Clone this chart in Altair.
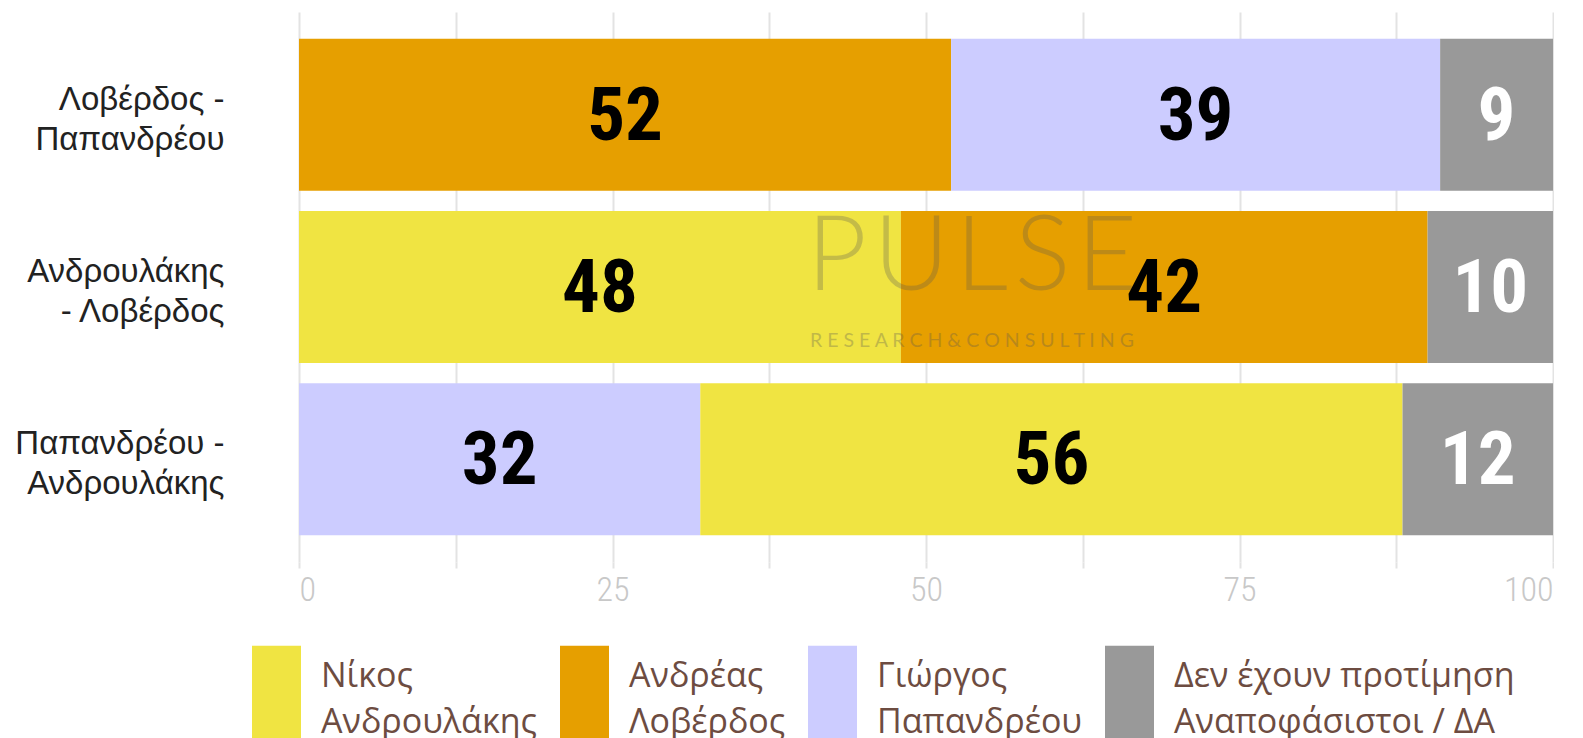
import altair as alt
import pandas as pd

# ---- data ----
rows = ["Λοβέρδος -|Παπανδρέου", "Ανδρουλάκης|- Λοβέρδος", "Παπανδρέου -|Ανδρουλάκης"]
candidates = ["Νίκος|Ανδρουλάκης", "Ανδρέας|Λοβέρδος", "Γιώργος|Παπανδρέου",
              "Δεν έχουν προτίμηση|Αναποφάσιστοι / ΔΑ"]
colors = ["#F0E442", "#E69F00", "#CCCCFF", "#999999"]

# segments per row, in drawing order (left to right)
row1_cands = [1, 2, 3]
row1_vals = [52, 39, 9]
row2_cands = [0, 1, 3]
row2_vals = [48, 42, 10]
row3_cands = [2, 0, 3]
row3_vals = [32, 56, 12]

x_ticks = [0, 12.5, 25, 37.5, 50, 62.5, 75, 87.5, 100]

recs = []
for r, cs, vs in [(rows[0], row1_cands, row1_vals),
                  (rows[1], row2_cands, row2_vals),
                  (rows[2], row3_cands, row3_vals)]:
    for i, (c, v) in enumerate(zip(cs, vs)):
        recs.append({"row": r, "cand": candidates[c], "value": v, "pos": i})
df = pd.DataFrame(recs)

COND = "Roboto Condensed, Liberation Sans Narrow, DejaVu Sans Condensed, sans-serif"

base = alt.Chart(df).transform_stack(
    stack="value", groupby=["row"], sort=[alt.SortField("pos")], as_=["x0", "x1"]
).transform_calculate(mid="(datum.x0 + datum.x1) / 2")

y_enc = alt.Y(
    "row:N", sort=rows,
    scale=alt.Scale(paddingInner=0.1177, paddingOuter=0.1556),
    axis=alt.Axis(title=None, labelExpr="split(datum.label, '|')", labelFontSize=33,
                  labelLineHeight=40, labelColor="#222222", labelFont="Liberation Sans",
                  labelPadding=75, labelOffset=-15, ticks=False, tickSize=0, domain=False,
                  minExtent=291, maxExtent=291, labelLimit=300, labelAlign="right"),
)

bars = base.mark_bar().encode(
    x=alt.X("x0:Q", scale=alt.Scale(domain=[0, 100], nice=False),
            axis=alt.Axis(values=x_ticks, title=None, grid=True, gridColor="#e3e3e3",
                          gridWidth=2, domain=False, tickColor="#e3e3e3", tickSize=6,
                          tickWidth=2, labelColor="#c8c8c8", labelFontSize=34,
                          labelFont=COND, labelFontWeight=300, labelPadding=5,
                          labelExpr="datum.value % 25 == 0 ? datum.label : ''")),
    x2="x1:Q",
    y=y_enc,
    color=alt.Color(
        "cand:N",
        scale=alt.Scale(domain=candidates, range=colors),
        legend=alt.Legend(
            orient="none", legendX=-47, legendY=640, direction="horizontal", columns=4,
            title=None, symbolType="M-1,-1.27L1,-1.27L1,2.73L-1,2.73Z", symbolSize=2401,
            symbolStrokeWidth=0, symbolOpacity=1, labelFontSize=34, labelColor="#6d4c41",
            labelFont="Open Sans", labelOffset=20, labelLimit=500,
            labelExpr="split(datum.label, '|')", columnPadding=22, rowPadding=0, padding=0,
        ),
    ),
)

wm1 = alt.Chart(pd.DataFrame({"t": ["P\u200aU\u200aL\u200aS\u200aE"]})).mark_text(
    font="Lato", fontWeight=300, fontSize=104, color="#555555", opacity=0.28,
    align="center", baseline="middle"
).encode(x=alt.value(673), y=alt.value(247), text="t:N")

wm2 = alt.Chart(pd.DataFrame({"t": ["R E S E A R C H  &  C O N S U L T I N G"]})).mark_text(
    font="Lato", fontSize=19.5, color="#555555", opacity=0.3, align="center", baseline="middle"
).encode(x=alt.value(673), y=alt.value(329), text="t:N")

labels = base.mark_text(font=COND, fontWeight="bold", fontSize=75, baseline="middle",
                        align="center", dy=2).encode(
    x="mid:Q",
    y=alt.Y("row:N", sort=rows),
    text="value:Q",
    color=alt.condition(alt.datum.cand == candidates[3], alt.value("white"), alt.value("black")),
)

chart = alt.layer(bars, wm1, wm2, labels).properties(
    width=1254, height=550,
    padding={"left": 0, "top": 4, "right": 0, "bottom": 0},
    background="white",
).configure(
    style={"guide-label": {"lineHeight": 46}},
    view=alt.ViewConfig(stroke=None),
)

chart.save("out.html", embed_options={"renderer": "svg", "actions": False})
